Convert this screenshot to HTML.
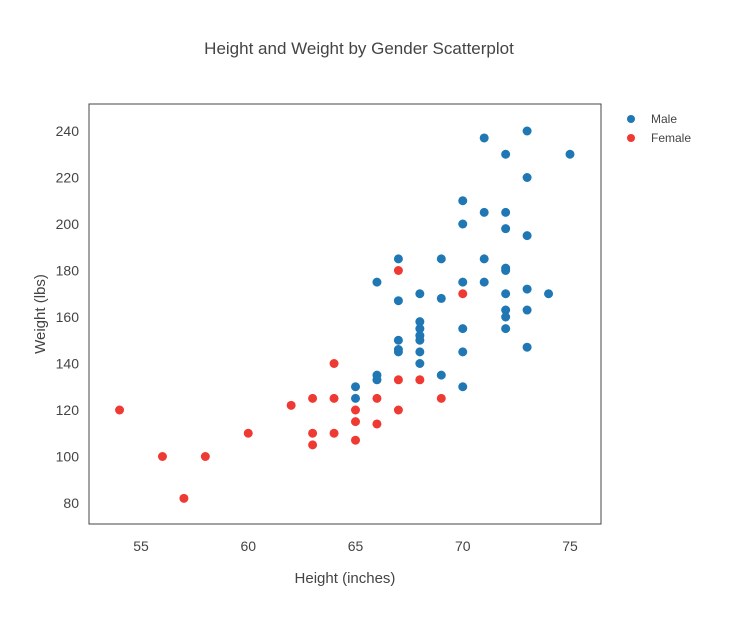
<!DOCTYPE html>
<html><head><meta charset="utf-8"><style>
body{margin:0;background:#fff;font-family:"Liberation Sans",sans-serif;}
text{font-family:"Liberation Sans",sans-serif;fill:#444;}
</style></head><body>
<svg id="chart" width="736" height="613">
<text x="359" y="54" text-anchor="middle" font-size="17">Height and Weight by Gender Scatterplot</text>
<rect x="89" y="104" width="512" height="420" fill="none" stroke="#444" stroke-width="1"/>
<g id="xt"></g>
<g id="yt"></g>
<text x="345" y="583" text-anchor="middle" font-size="15">Height (inches)</text>
<text transform="translate(45,314) rotate(-90)" text-anchor="middle" font-size="15">Weight (lbs)</text>
<g id="pts"></g>
<g>
<g><circle cx="631" cy="119" r="4" fill="#1f77b4"/><text x="651" y="123" font-size="12">Male</text></g>
<g><circle cx="631" cy="138" r="4" fill="#ef3a33"/><text x="651" y="142" font-size="12">Female</text></g>
</g>
</svg>
<script>
const xTicks=[55,60,65,70,75];
const yTicks=[80,100,120,140,160,180,200,220,240];
const maleH=[65,65,66,66,66,67,67,67,67,67,68,68,68,68,68,68,68,69,69,69,70,70,70,70,70,70,71,71,71,71,72,72,72,72,72,72,72,72,72,73,73,73,73,73,73,74,75];
const maleW=[130,125,135,133,175,185,167,150,146,145,170,158,155,152,150,145,140,185,168,135,210,200,175,155,145,130,237,205,185,175,230,205,198,181,180,170,163,160,155,240,220,195,172,163,147,170,230];
const femaleH=[54,56,57,58,60,62,63,63,63,64,64,64,65,65,65,66,66,67,67,67,68,69,70];
const femaleW=[120,100,82,100,110,122,125,110,105,140,125,110,120,115,107,125,114,180,133,120,133,125,170];
const X=v=>141+(v-55)*21.45;
const Y=v=>503-(v-80)*2.325;
const NS="http://www.w3.org/2000/svg";
const xt=document.getElementById('xt'),yt=document.getElementById('yt'),pts=document.getElementById('pts');
xTicks.forEach(t=>{const e=document.createElementNS(NS,'text');e.setAttribute('x',X(t));e.setAttribute('y',551);e.setAttribute('text-anchor','middle');e.setAttribute('font-size','14');e.textContent=t;


xt.appendChild(e);});
yTicks.forEach(t=>{const e=document.createElementNS(NS,'text');e.setAttribute('x',79);e.setAttribute('y',Y(t)+5);e.setAttribute('text-anchor','end');e.setAttribute('font-size','14');e.textContent=t;


yt.appendChild(e);});
function draw(h,w,c,n){h.forEach((v,i)=>{const e=document.createElementNS(NS,'circle');e.setAttribute('cx',X(v));e.setAttribute('cy',Y(w[i]));e.setAttribute('r',4.5);e.setAttribute('fill',c);


pts.appendChild(e);});}
draw(maleH,maleW,'#1f77b4','male-point');
draw(femaleH,femaleW,'#ef3a33','female-point');
</script>
</body></html>
